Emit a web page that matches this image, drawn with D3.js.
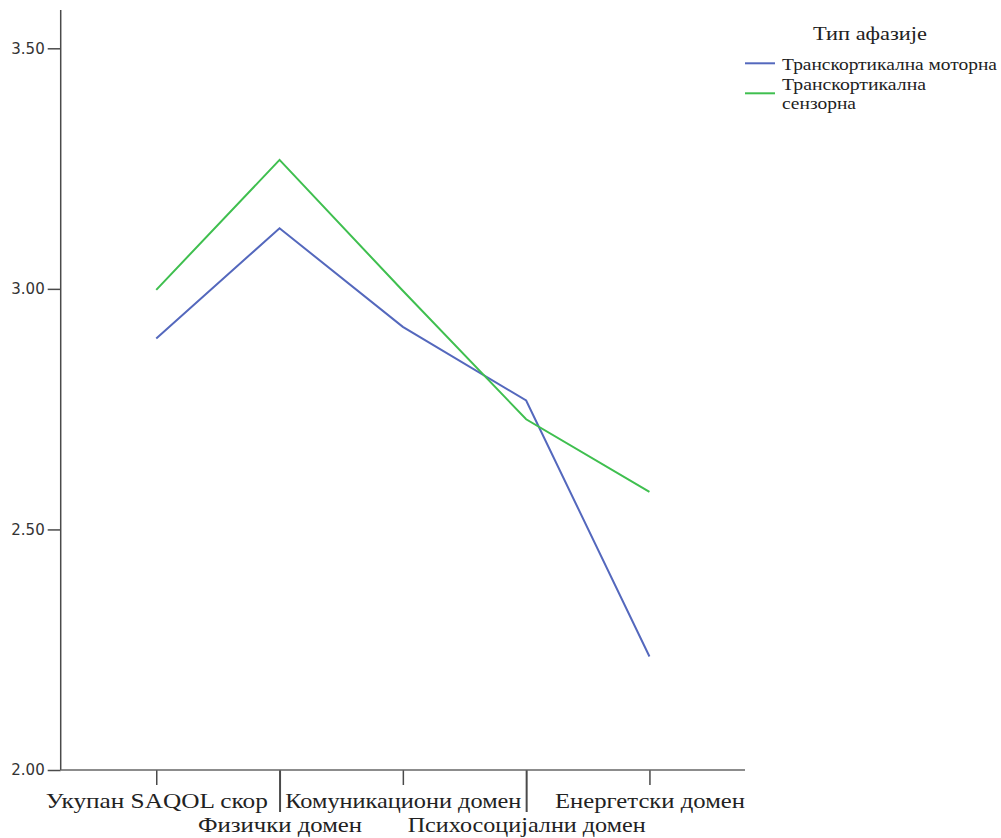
<!DOCTYPE html>
<html><head><meta charset="utf-8">
<script src="https://cdn.jsdelivr.net/npm/d3@7"></script>
<style>body{margin:0;background:#fff}svg{display:block}
.serif{font-family:"Liberation Serif","DejaVu Serif",serif}</style>
</head><body>
<svg id="c" width="1001" height="838"></svg>
<script>
const categories = ["Укупан SAQOL скор","Физички домен","Комуникациони домен","Психосоцијални домен","Енергетски домен"];
const motorna = [2.897, 3.126, 2.921, 2.768, 2.236];
const senzorna = [2.998, 3.268, 2.996, 2.729, 2.578];
const yTicks = [2.0, 2.5, 3.0, 3.5];
const legendTitle = "Тип афазије";
const seriesNames = ["Транскортикална моторна", "Транскортикална\nсензорна"];

// layout: widths of x labels in pixels as drawn in the reference
const xLabelWidths = [222, 164, 236, 238, 190];

const svg = d3.select("#c");
const x = d3.scalePoint().domain(categories).range([60.7, 745]).padding(0.775);
const y = d3.scaleLinear().domain([2.0, 3.5]).range([770, 48.3]);
const axisColor = "#4a4a4a";

// y axis
const gy = svg.append("g").attr("transform","translate(60.7,0)")
  .call(d3.axisLeft(y).tickValues(yTicks).tickFormat(d3.format(".2f")).tickSize(13).tickPadding(3));
gy.select(".domain").remove();
gy.selectAll("line").attr("stroke",axisColor).attr("stroke-width",1.5);
gy.selectAll("text").attr("font-family","DejaVu Sans").attr("font-size",15).attr("fill","#333");
svg.append("line").attr("x1",60.7).attr("x2",60.7).attr("y1",10).attr("y2",770)
  .attr("stroke",axisColor).attr("stroke-width",1.5);

// x axis
const gx = svg.append("g").attr("transform","translate(0,770)")
  .call(d3.axisBottom(x).tickSize(15).tickPadding(6));
gx.select(".domain").remove();
svg.append("line").attr("x1",60.7).attr("x2",745).attr("y1",770).attr("y2",770)
  .attr("stroke","#666").attr("stroke-width",1.5);
gx.selectAll(".tick").each(function(d,i){
  const t = d3.select(this);
  t.select("line").attr("stroke",axisColor).attr("stroke-width",i%2? 2:1.5).attr("y2", i%2? 42:15);
  t.select("text").attr("y", i%2? 62:38).attr("dy",0).attr("class","serif")
    .attr("font-family",null).attr("font-size",22).attr("fill","#222")
    .attr("textLength", xLabelWidths[i]).attr("lengthAdjust","spacingAndGlyphs");
});
gx.attr("font-family",null);

// lines
const line = d3.line().x((d,i)=>x(categories[i])).y(d=>y(d));
const colors = ["#5468bd","#3fbf4f"];
[motorna, senzorna].forEach((s,k)=>{
  svg.append("path").datum(s).attr("d",line).attr("fill","none")
    .attr("stroke",colors[k]).attr("stroke-width",2).attr("stroke-linejoin","miter");
});

// legend
const lg = svg.append("g");
lg.append("text").attr("class","serif").attr("x",870).attr("y",40).attr("text-anchor","middle")
  .attr("font-size",18).attr("fill","#222").attr("textLength",114).attr("lengthAdjust","spacingAndGlyphs").text(legendTitle);
const ly = [63.3, 93.3];
const legendWidths = [[215],[144, 74]];
seriesNames.forEach((n,k)=>{
  lg.append("line").attr("x1",745).attr("x2",775).attr("y1",ly[k]).attr("y2",ly[k])
    .attr("stroke",colors[k]).attr("stroke-width",2);
  const parts = n.split("\n");
  const baseY = k===0 ? 70 : 90;
  parts.forEach((p,j)=>{
    lg.append("text").attr("class","serif").attr("font-size",17).attr("fill","#222")
      .attr("x",782).attr("y", baseY + j*19)
      .attr("textLength", legendWidths[k][j]).attr("lengthAdjust","spacingAndGlyphs").text(p);
  });
});
</script>
</body></html>
